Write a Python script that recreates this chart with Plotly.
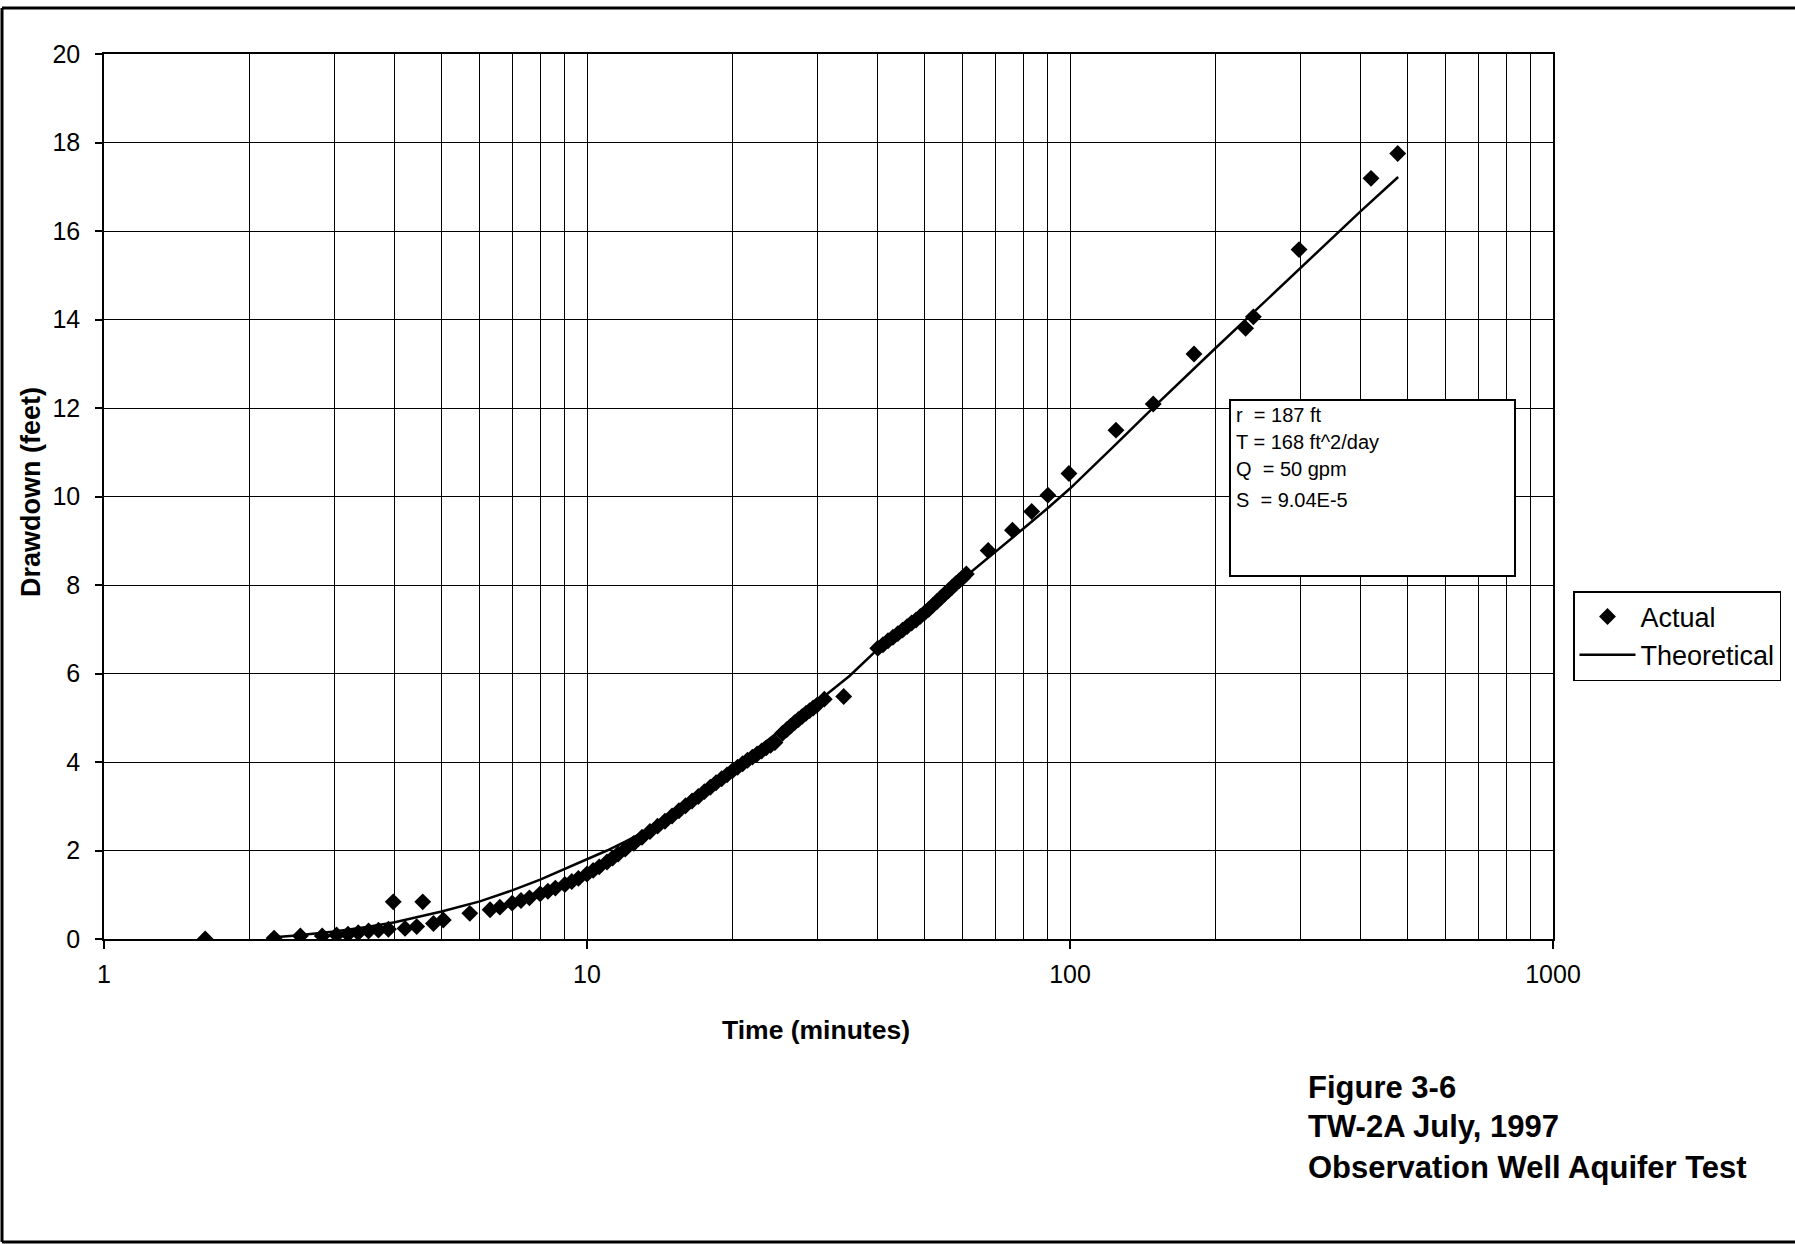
import plotly.graph_objects as go

# ---- data ----
actual_time = [1.62, 2.25, 2.55, 2.83, 3.03, 3.20, 3.36, 3.53, 3.70, 3.88, 3.97, 4.20, 4.44, 4.57, 4.81, 5.04, 5.72,
               6.3, 6.6, 7.0, 7.3, 7.6, 8.0, 8.3, 8.6, 9.0, 9.3, 9.6, 10.0, 10.3, 10.6, 11.0, 11.3, 11.6, 12.0,
               12.5, 13.0, 13.5, 14.0, 14.5, 15.0, 15.5, 16.0, 16.5, 17.0, 17.5, 18.0, 18.5, 19.0, 19.5, 20.0,
               20.5, 21.0, 21.5, 22.0, 22.5, 23.0, 23.5, 24.0, 24.5,
               25.4, 25.9, 26.4, 26.9, 27.4, 27.9, 28.4, 28.9, 29.4, 29.9, 31.0, 34.0,
               40, 41, 42, 43, 44, 45, 46, 47, 48, 49, 50, 51, 52, 53, 54, 55, 56, 57, 58, 59, 60, 61,
               67.7, 76.0, 83.3, 90.0, 99.5, 124.5, 148.7, 180.6, 231, 239.7, 298, 420, 477]
actual_drawdown = [0.00, 0.02, 0.07, 0.07, 0.09, 0.11, 0.14, 0.18, 0.20, 0.22, 0.84, 0.24, 0.28, 0.84, 0.35, 0.43, 0.58,
                   0.66, 0.72, 0.81, 0.87, 0.93, 1.02, 1.08, 1.15, 1.23, 1.30, 1.37, 1.47, 1.55, 1.63, 1.74, 1.83, 1.92, 2.03,
                   2.16, 2.30, 2.43, 2.55, 2.66, 2.78, 2.90, 3.01, 3.12, 3.22, 3.33, 3.43, 3.53, 3.62, 3.71, 3.80,
                   3.88, 3.96, 4.04, 4.11, 4.18, 4.25, 4.32, 4.38, 4.44,
                   4.65, 4.73, 4.81, 4.89, 4.96, 5.03, 5.10, 5.16, 5.22, 5.28, 5.42, 5.48,
                   6.57, 6.65, 6.74, 6.82, 6.90, 6.98, 7.06, 7.14, 7.21, 7.29, 7.37, 7.45, 7.54, 7.62, 7.71, 7.79,
                   7.87, 7.95, 8.03, 8.10, 8.17, 8.25,
                   8.78, 9.24, 9.66, 10.03, 10.52, 11.50, 12.09, 13.22, 13.80, 14.06, 15.58, 17.19, 17.75]

theory_time = [2.25, 2.5, 3.0, 3.5, 4.0, 4.5, 5.0, 6.0, 7.0, 8.0, 9.0, 10.0, 11.0, 12.0, 14.0, 16.0, 18.0, 20.0,
               25.0, 30.0, 35.0, 40.0, 50.0, 60.0, 70.0, 80.0, 90.0, 100.0, 125.0, 150.0, 200.0, 250.0, 300.0,
               350.0, 400.0, 478.0]
theory_drawdown = [0.04, 0.08, 0.17, 0.27, 0.38, 0.50, 0.62, 0.85, 1.10, 1.34, 1.58, 1.80, 2.00, 2.20, 2.58, 2.98,
                   3.40, 3.85, 4.70, 5.36, 5.95, 6.55, 7.42, 8.15, 8.74, 9.27, 9.74, 10.18, 11.20, 12.05, 13.35,
                   14.35, 15.15, 15.85, 16.45, 17.22]

x_major = [1, 10, 100, 1000]
x_major_text = ["1", "10", "100", "1000"]
x_minor = [2, 3, 4, 5, 6, 7, 8, 9, 20, 30, 40, 50, 60, 70, 80, 90, 200, 300, 400, 500, 600, 700, 800, 900]
y_ticks = [0, 2, 4, 6, 8, 10, 12, 14, 16, 18, 20]

params_text = ["r  = 187 ft", "T = 168 ft^2/day", "Q  = 50 gpm", "S  = 9.04E-5"]
caption_text = ["Figure 3-6", "TW-2A July, 1997", "Observation Well Aquifer Test"]

FONT = "Liberation Sans, Arial, sans-serif"
W, H = 1795, 1244
L, R, T, B = 104, 242, 54, 305
PW, PH = W - L - R, H - T - B


def px(x):
    return (x - L) / PW


def py(y):
    return (H - B - y) / PH


fig = go.Figure()
fig.add_trace(go.Scatter(x=theory_time, y=theory_drawdown, mode="lines", name="Theoretical",
                         line=dict(color="black", width=2.5)))
fig.add_trace(go.Scatter(x=actual_time, y=actual_drawdown, mode="markers", name="Actual",
                         marker=dict(symbol="diamond", size=13, color="black")))

fig.update_layout(
    width=W, height=H,
    margin=dict(l=L, r=R, t=T, b=B, autoexpand=False),
    paper_bgcolor="white", plot_bgcolor="white",
    font=dict(family=FONT, color="black", size=25),
    showlegend=True,
    legend=dict(x=px(1573), y=py(591), xanchor="left", yanchor="top",
                bordercolor="black", borderwidth=1.5, bgcolor="white",
                font=dict(size=27, family=FONT, color="black"),
                traceorder="reversed", itemwidth=56, tracegroupgap=0),
)

fig.update_xaxes(type="log", range=[0, 3], tickvals=x_major, ticktext=x_major_text,
                 ticks="outside", ticklen=8, tickwidth=1.5, tickcolor="black",
                 showgrid=True, gridcolor="black", gridwidth=1.3,
                 showline=True, linecolor="black", linewidth=1.5, mirror=True,
                 ticklabelstandoff=4, zeroline=False,
                 minor=dict(tickvals=x_minor, showgrid=True, gridcolor="black", gridwidth=1.3, ticks=""),
                 tickfont=dict(size=25))
fig.update_yaxes(range=[0, 20], tickvals=y_ticks,
                 ticks="outside", ticklen=7, tickwidth=1.5, tickcolor="black",
                 showgrid=True, gridcolor="black", gridwidth=1.3,
                 showline=True, linecolor="black", linewidth=1.5, mirror=True,
                 ticklabelstandoff=10, zeroline=False,
                 tickfont=dict(size=25))

shapes = []
# parameter box
shapes.append(dict(type="rect", xref="paper", yref="paper",
                   x0=px(1230), x1=px(1515), y0=py(576), y1=py(400),
                   line=dict(color="black", width=2), fillcolor="white", layer="above"))
# outer frame (top, left, bottom edges only; right edge lies outside the image)
frame = dict(color="black", width=3)
shapes.append(dict(type="line", xref="paper", yref="paper", x0=px(2), x1=px(1795), y0=py(8), y1=py(8), line=frame))
shapes.append(dict(type="line", xref="paper", yref="paper", x0=px(2), x1=px(2), y0=py(8), y1=py(1242), line=frame))
shapes.append(dict(type="line", xref="paper", yref="paper", x0=px(2), x1=px(1795), y0=py(1242), y1=py(1242), line=frame))
fig.update_layout(shapes=shapes)

annotations = []
for txt, yc in zip(params_text, [415, 442, 469, 500]):
    annotations.append(dict(text=txt, xref="paper", yref="paper", x=px(1234), y=py(yc),
                            xanchor="left", yanchor="middle", showarrow=False,
                            font=dict(size=20, family=FONT, color="black")))
for txt, yc in zip(caption_text, [1087, 1126, 1167]):
    annotations.append(dict(text="<b>%s</b>" % txt, xref="paper", yref="paper", x=px(1306), y=py(yc),
                            xanchor="left", yanchor="middle", showarrow=False,
                            font=dict(size=31, family=FONT, color="black")))
annotations.append(dict(text="<b>Time (minutes)</b>", xref="paper", yref="paper", x=px(816), y=py(1030),
                        xanchor="center", yanchor="middle", showarrow=False,
                        font=dict(size=26.5, family=FONT, color="black")))
annotations.append(dict(text="<b>Drawdown (feet)</b>", xref="paper", yref="paper", x=px(31), y=py(492),
                        xanchor="center", yanchor="middle", showarrow=False, textangle=-90,
                        font=dict(size=27, family=FONT, color="black")))
fig.update_layout(annotations=annotations)

fig.write_html("out.html", config={"displayModeBar": False},
               post_script="document.body.style.margin='0';document.body.style.overflow='hidden';")
